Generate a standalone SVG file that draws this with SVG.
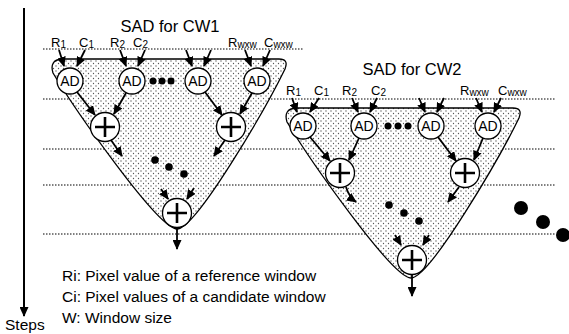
<svg xmlns="http://www.w3.org/2000/svg" width="569" height="334" viewBox="0 0 569 334">
<defs>
<pattern id="stip" width="5" height="5" patternUnits="userSpaceOnUse">
<rect width="5" height="5" fill="#fff"/>
<circle cx="1" cy="1" r="0.65" fill="#555"/>
<circle cx="3.5" cy="3.5" r="0.65" fill="#555"/>
</pattern>
<marker id="ah" markerUnits="userSpaceOnUse" markerWidth="10" markerHeight="9" refX="9" refY="4.5" orient="auto">
<path d="M0,0 L10,4.5 L0,9 Z" fill="#000"/>
</marker>
<g id="plus">
<circle r="14.5" fill="#fff" stroke="#000" stroke-width="1.3"/>
<path d="M-10,0 H10 M0,-10 V10" stroke="#000" stroke-width="2.6"/>
</g>
</defs>
<style>
.dot{stroke:#000;stroke-width:1;stroke-dasharray:1.5 1.5;fill:none}
.shape{fill:url(#stip);stroke:#000;stroke-width:1.3}
.ad{fill:#fff;stroke:#000;stroke-width:1.3}
.adt{font-family:"Liberation Sans",Arial,sans-serif;font-size:14px;text-anchor:middle}
.lbl{font-family:"Liberation Sans",Arial,sans-serif;font-size:13px}
.sub{font-size:10px}
.t{font-family:"Liberation Sans",Arial,sans-serif;font-size:15.5px}
.title{font-family:"Liberation Sans",Arial,sans-serif;font-size:16.5px;text-anchor:middle}
.arr{stroke:#000;stroke-width:1.8;fill:none;marker-end:url(#ah)}
</style>
<rect width="569" height="334" fill="#fff"/>

<g id="gridlines">
<line class="dot" x1="43" y1="49" x2="304" y2="49"/>
<line class="dot" x1="43" y1="99" x2="556" y2="99"/>
<line class="dot" x1="43" y1="149" x2="556" y2="149"/>
<line class="dot" x1="43" y1="185" x2="556" y2="185"/>
<line class="dot" x1="43" y1="234" x2="556" y2="234"/>
</g>

<g id="steps-axis">
<line x1="24" y1="8" x2="24" y2="316" stroke="#000" stroke-width="2" marker-end="url(#ah)"/>
<text class="t" x="5" y="330">Steps</text>
</g>

<g id="sad-cw1">
<path class="shape" d="M62,59 L279,59 Q289,59 285,69 C266,108 196,229 177,229 C158,229 74,108 53,73 Q49,60 62,59 Z"/>
<text class="title" x="170" y="32">SAD for CW1</text>
<text class="lbl" x="51" y="47">R<tspan class="sub" dy="1">1</tspan></text>
<text class="lbl" x="79" y="47">C<tspan class="sub" dy="1">1</tspan></text>
<text class="lbl" x="110" y="47">R<tspan class="sub" dy="1">2</tspan></text>
<text class="lbl" x="133" y="47">C<tspan class="sub" dy="1">2</tspan></text>
<text class="lbl" x="228" y="47">R<tspan class="sub" dy="1">wxw</tspan></text>
<text class="lbl" x="264" y="47">C<tspan class="sub" dy="1">wxw</tspan></text>
<g id="cw1-ad1"><circle class="ad" cx="70" cy="81" r="13"/><text class="adt" x="70" y="86">AD</text></g>
<g id="cw1-ad2"><circle class="ad" cx="132" cy="81" r="13"/><text class="adt" x="132" y="86">AD</text></g>
<g id="cw1-ad3"><circle class="ad" cx="198" cy="81" r="13"/><text class="adt" x="198" y="86">AD</text></g>
<g id="cw1-ad4"><circle class="ad" cx="257" cy="81" r="13"/><text class="adt" x="257" y="86">AD</text></g>
<circle cx="153" cy="81" r="3.5"/><circle cx="162" cy="81" r="3.5"/><circle cx="171" cy="81" r="3.5"/>
<g id="cw1-add1"><use href="#plus" x="105" y="127"/></g>
<g id="cw1-add2"><use href="#plus" x="231" y="127"/></g>
<g id="cw1-add3"><use href="#plus" x="177" y="213"/></g>
<circle cx="155" cy="160" r="3.8"/><circle cx="169" cy="167" r="3.8"/><circle cx="184" cy="174" r="3.8"/>
</g>

<g id="sad-cw2">
<path class="shape" d="M296,108 L513,108 Q523,108 519,118 C500,157 430,278 411,278 C392,278 308,157 287,122 Q283,109 296,108 Z"/>
<text class="title" x="412" y="75">SAD for CW2</text>
<text class="lbl" x="286" y="95">R<tspan class="sub" dy="1">1</tspan></text>
<text class="lbl" x="314" y="95">C<tspan class="sub" dy="1">1</tspan></text>
<text class="lbl" x="342" y="95">R<tspan class="sub" dy="1">2</tspan></text>
<text class="lbl" x="371" y="95">C<tspan class="sub" dy="1">2</tspan></text>
<text class="lbl" x="460" y="95">R<tspan class="sub" dy="1">wxw</tspan></text>
<text class="lbl" x="498" y="95">C<tspan class="sub" dy="1">wxw</tspan></text>
<g id="cw2-ad1"><circle class="ad" cx="303" cy="126" r="13"/><text class="adt" x="303" y="131">AD</text></g>
<g id="cw2-ad2"><circle class="ad" cx="364" cy="126" r="13"/><text class="adt" x="364" y="131">AD</text></g>
<g id="cw2-ad3"><circle class="ad" cx="431" cy="126" r="13"/><text class="adt" x="431" y="131">AD</text></g>
<g id="cw2-ad4"><circle class="ad" cx="488" cy="126" r="13"/><text class="adt" x="488" y="131">AD</text></g>
<circle cx="388" cy="126" r="3.5"/><circle cx="398" cy="126" r="3.5"/><circle cx="408" cy="126" r="3.5"/>
<g id="cw2-add1"><use href="#plus" x="340" y="173"/></g>
<g id="cw2-add2"><use href="#plus" x="465" y="173"/></g>
<g id="cw2-add3"><use href="#plus" x="412" y="260"/></g>
<circle cx="389" cy="205" r="3.8"/><circle cx="404" cy="213" r="3.8"/><circle cx="419" cy="221" r="3.8"/>
</g>

<g id="more">
<circle cx="521" cy="208" r="7"/><circle cx="543" cy="222" r="7"/><circle cx="563" cy="235" r="7"/>
</g>

<g id="connectors">
<path class="arr" d="M59,50 L64,66"/><path class="arr" d="M85,50 L77,66"/>
<path class="arr" d="M120,50 L126,66"/><path class="arr" d="M145,50 L138,66"/>
<path class="arr" d="M186,50 L192,66"/><path class="arr" d="M211,50 L204,66"/>
<path class="arr" d="M245,50 L251,66"/><path class="arr" d="M270,50 L263,66"/>
<path class="arr" d="M77,92 L95,115"/><path class="arr" d="M126,93 L114,114"/>
<path class="arr" d="M205,92 L222,115"/><path class="arr" d="M252,93 L240,114"/>
<path class="arr" d="M111,140 L122,156"/><path class="arr" d="M225,140 L214,156"/>
<path class="arr" d="M161,189 L168,199"/><path class="arr" d="M194,188 L187,199"/>
<path class="arr" d="M177,228 L177,249"/>

<path class="arr" d="M292,98 L297,112"/><path class="arr" d="M319,98 L310,112"/>
<path class="arr" d="M352,98 L358,112"/><path class="arr" d="M377,98 L370,112"/>
<path class="arr" d="M419,98 L425,112"/><path class="arr" d="M444,98 L437,112"/>
<path class="arr" d="M476,98 L482,112"/><path class="arr" d="M501,98 L494,112"/>
<path class="arr" d="M310,137 L330,161"/><path class="arr" d="M359,138 L349,160"/>
<path class="arr" d="M438,137 L456,161"/><path class="arr" d="M483,138 L474,160"/>
<path class="arr" d="M346,187 Q349,197 356,202"/><path class="arr" d="M459,187 L448,202"/>
<path class="arr" d="M395,235 L401,245"/><path class="arr" d="M429,235 L423,245"/>
<path class="arr" d="M412,275 L412,296"/>
</g>

<g id="legend">
<text class="t" x="62" y="281">Ri: Pixel value of a reference window</text>
<text class="t" x="62" y="302">Ci: Pixel values of a candidate window</text>
<text class="t" x="62" y="323">W: Window size</text>
</g>
</svg>
